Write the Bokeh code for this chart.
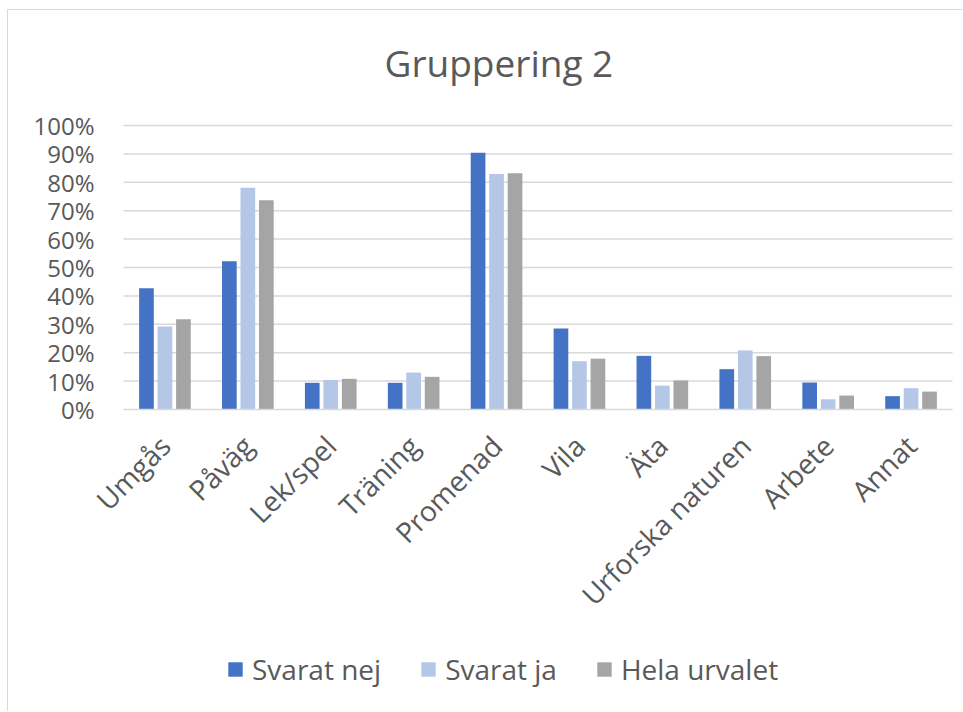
import math
from bokeh.plotting import figure
from bokeh.models import (ColumnDataSource, Range1d, NumeralTickFormatter,
                          FixedTicker, Legend, LegendItem, Label)
from bokeh.transform import dodge
from bokeh.embed import file_html
from bokeh.resources import INLINE

categories = ["Umgås", "Påväg", "Lek/spel", "Träning", "Promenad", "Vila", "Äta",
              "Urforska naturen", "Arbete", "Annat"]
svarat_nej = [0.427, 0.522, 0.094, 0.094, 0.904, 0.285, 0.189, 0.142, 0.095, 0.047]
svarat_ja = [0.292, 0.781, 0.104, 0.130, 0.829, 0.170, 0.084, 0.208, 0.036, 0.075]
hela_urvalet = [0.318, 0.737, 0.108, 0.115, 0.832, 0.179, 0.102, 0.188, 0.049, 0.063]
series_names = ["Svarat nej", "Svarat ja", "Hela urvalet"]
title_text = "Gruppering 2"
y_ticks = [i / 10 for i in range(11)]

FONT = "Open Sans"
TXT = "#595959"
GRID = "#d9d9d9"

# ---- layout in page pixels ----
FIG_LEFT, FIG_TOP, FIG_W, FIG_H = 8, 10, 955, 702
PLOT_L, PLOT_R, PLOT_T, PLOT_B = 123, 952, 125, 409
n = len(categories)
px_x = (PLOT_R - PLOT_L) / n
px_y = (PLOT_B - PLOT_T)
x_start = -(PLOT_L - FIG_LEFT) / px_x
x_end = n + (FIG_LEFT + FIG_W - PLOT_R) / px_x
y_start = -(FIG_TOP + FIG_H - PLOT_B) / px_y
y_end = 1 + (PLOT_T - FIG_TOP) / px_y

src = ColumnDataSource(dict(xc=[i + 0.5 for i in range(n)], nej=svarat_nej,
                            ja=svarat_ja, hela=hela_urvalet))

p = figure(x_range=Range1d(x_start, x_end), y_range=Range1d(y_start, y_end),
           width=FIG_W, height=FIG_H, output_backend="svg", toolbar_location=None,
           min_border=0, min_border_left=0, min_border_right=0, min_border_top=0,
           min_border_bottom=0)
p.styles = {"border-left": "1px solid #d9d9d9", "border-top": "1px solid #d9d9d9",
            "margin-left": "7px", "margin-top": "9px"}
p.outline_line_color = None
p.xgrid.visible = False
p.ygrid.visible = False

# gridlines across the plot area only
grid_y = y_ticks[1:]
p.segment(x0=[0] * len(grid_y), x1=[n] * len(grid_y), y0=grid_y, y1=grid_y,
          line_color=GRID, line_width=1.5)

colors = ["#4472C4", "#B4C7E7", "#A5A5A5"]
fields = ["nej", "ja", "hela"]
offsets = [-0.223, 0.0, 0.223]
renderers = []
for f, c, o in zip(fields, colors, offsets):
    r = p.vbar(x=dodge("xc", o), top=f, bottom=0, width=0.177, source=src,
               fill_color=c, line_color=None)
    renderers.append(r)

# y axis
p.yaxis.fixed_location = 0
p.yaxis.ticker = FixedTicker(ticks=y_ticks)
p.yaxis.formatter = NumeralTickFormatter(format="0%")
p.yaxis.axis_line_color = None
p.yaxis.major_tick_line_color = None
p.yaxis.minor_tick_line_color = None
p.yaxis.major_label_standoff = 23
p.yaxis.major_label_text_font = FONT
p.yaxis.major_label_text_font_size = "24px"
p.yaxis.major_label_text_color = TXT

# x axis
p.xaxis.fixed_location = 0
p.xaxis.bounds = (0, n)
p.xaxis.ticker = FixedTicker(ticks=[i + 0.5 for i in range(n)])
p.xaxis.major_label_overrides = {i + 0.5: c for i, c in enumerate(categories)}
p.xaxis.axis_line_color = GRID
p.xaxis.axis_line_width = 1.5
p.xaxis.major_tick_line_color = None
p.xaxis.minor_tick_line_color = None
p.xaxis.major_label_orientation = math.pi / 4
p.xaxis.major_label_standoff = 25
p.xaxis.major_label_text_font = FONT
p.xaxis.major_label_text_font_size = "28px"
p.xaxis.major_label_text_color = TXT

# title
p.add_layout(Label(x=384 - FIG_LEFT, y=FIG_TOP + FIG_H - 62, x_units="screen", y_units="screen",
                   text=title_text, text_font=FONT, text_font_size="37px", text_color=TXT,
                   text_baseline="alphabetic", text_align="left"))

legend = Legend(items=[LegendItem(label=s, renderers=[r]) for s, r in zip(series_names, renderers)],
                orientation="horizontal", location=(227 - FIG_LEFT - 1, 24),
                glyph_width=18, glyph_height=18, label_standoff=8, spacing=38,
                padding=0, margin=0, border_line_color=None, background_fill_alpha=0,
                label_text_font=FONT, label_text_font_size="28px", label_text_color=TXT)
p.add_layout(legend, "center")

open("out.html", "w").write(file_html(p, INLINE))
